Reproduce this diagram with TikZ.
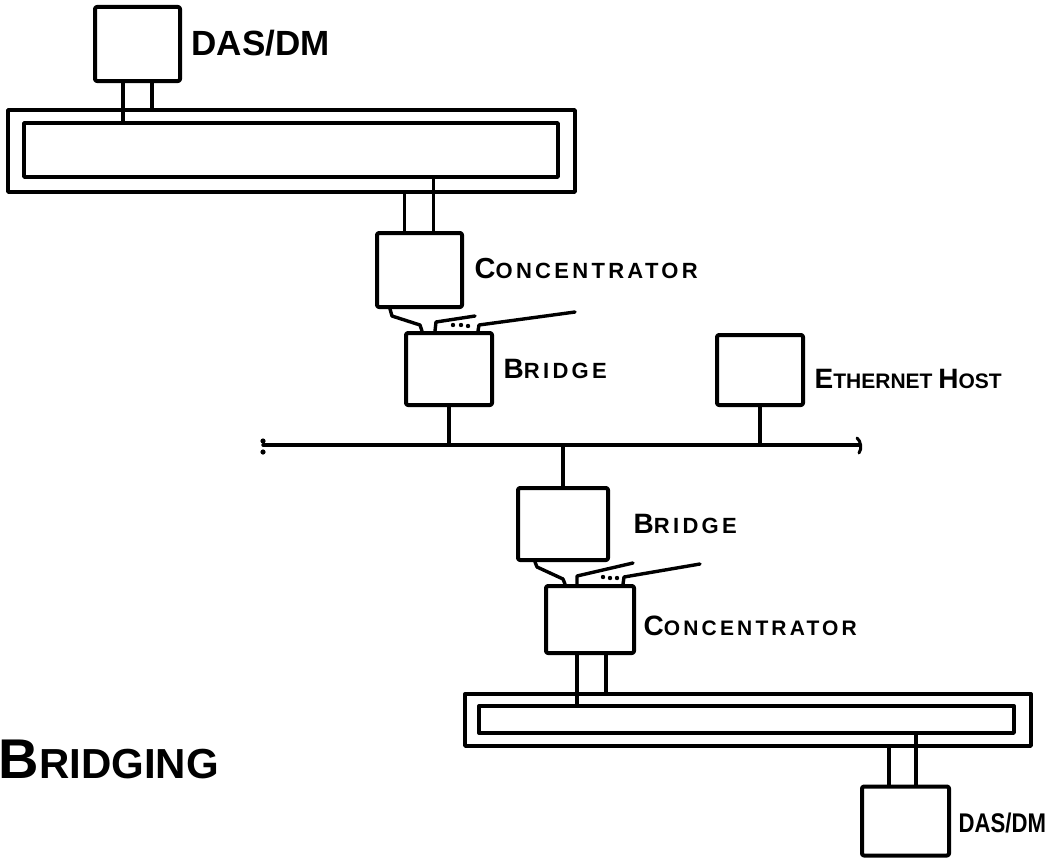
\documentclass[tikz,border=0pt]{standalone}
\usepackage{fontspec}
\setmainfont{Liberation Sans}
\newfontfamily\hand{Liberation Sans}[LetterSpace=15]
\newfontfamily\handplain{Liberation Sans}
\newfontfamily\handnarrow{Liberation Sans}[FakeStretch=0.82]
% first letter big, the rest smaller (hand lettered small caps)
\newcommand\capword[4]{{\fontsize{#1}{#1}\selectfont #3}{\fontsize{#2}{#2}\selectfont #4}}

\begin{document}
\begin{tikzpicture}[x=1pt, y=-1pt, line width=3.4pt, line cap=round, line join=round,
  box/.style={draw, line width=4pt, rounded corners=2pt, minimum width=86pt, minimum height=72pt, inner sep=0pt},
  ring/.style={draw, inner sep=0pt},
  lbl/.style={anchor=base west, inner sep=0pt, font=\hand\bfseries}]
  \useasboundingbox (0,0) rectangle (1054,859);

  % upper ring with its station and concentrator
  \node[box, minimum width=85pt, minimum height=74pt] (das1) at (137.5,44) {};
  \node[ring, minimum width=567pt, minimum height=82pt] (ring1out) at (291.5,151) {};
  \node[ring, minimum width=534pt, minimum height=54pt] (ring1in) at (291,150) {};
  \node[box, minimum width=85pt, minimum height=74pt] (conc1) at (419.5,270) {};
  \node[box] (bridge1) at (449,369) {};
  \draw ([xshift=-14.5]das1.south) -- ([xshift=-14.5]das1.south |- ring1in.north);
  \draw ([xshift=14.5]das1.south) -- ([xshift=14.5]das1.south |- ring1out.north);
  \draw ([xshift=-15]conc1.north) -- ([xshift=-15]conc1.north |- ring1out.south);
  \draw ([xshift=14]conc1.north) -- ([xshift=14]conc1.north |- ring1in.south);

  % ports between concentrator and bridge
  \coordinate (tail1a) at (475,316); \coordinate (tail1b) at (575,312);
  \draw ([xshift=-29.5]conc1.south) -- ++(2,7) -- ++(28,9) -- ([xshift=-27]bridge1.north);
  \draw ([xshift=-14]bridge1.north) -- ++(1,-9) -- (tail1a);
  \draw ([xshift=29]bridge1.north) -- ++(1,-6) -- (tail1b);
  \foreach \px/\py in {453/325, 461/325, 468/326} \fill (\px,\py) circle (2.2pt);

  % ethernet
  \coordinate (busL) at (263,445); \coordinate (busR) at (860,445);
  \draw (busL) -- (busR);
  \fill (263,441) circle (2.6pt); \fill (263,452) circle (2.6pt);
  \draw[line width=3pt] (857,438) .. controls (861,441) and (862,449) .. (859,453);
  \node[box, minimum height=70pt] (host) at (760,370) {};
  \node[box, minimum width=90pt] (bridge2) at (563,524) {};
  \draw (bridge1.south) -- (bridge1.south |- busL);
  \draw (host.south) -- (host.south |- busL);
  \draw (bridge2.north) -- (bridge2.north |- busL);

  % lower ring
  \node[box, minimum width=88pt, minimum height=67pt] (conc2) at (590,619.5) {};
  \coordinate (tail2a) at (633,563); \coordinate (tail2b) at (700,564);
  \draw ([xshift=-28]bridge2.south) -- ++(2,5) -- ++(26,12) -- ([xshift=-25]conc2.north);
  \draw ([xshift=-13]conc2.north) -- ++(0,-8) -- (tail2a);
  \draw ([xshift=33]conc2.north) -- ++(1,-7) -- (tail2b);
  \foreach \px/\py in {603/577, 610/578, 617/578} \fill (\px,\py) circle (2.2pt);

  \node[ring, minimum width=566pt, minimum height=52pt] (ring2out) at (748,720) {};
  \node[ring, minimum width=535pt, minimum height=27pt] (ring2in) at (746.5,719.5) {};
  \node[box, minimum width=87pt, minimum height=69pt] (das2) at (905.5,821) {};
  \draw ([xshift=-13]conc2.south) -- ([xshift=-13]conc2.south |- ring2in.north);
  \draw ([xshift=16]conc2.south) -- ([xshift=16]conc2.south |- ring2out.north);
  \draw ([xshift=-16.5]das2.north) -- ([xshift=-16.5]das2.north |- ring2out.south);
  \draw ([xshift=10.5]das2.north) -- ([xshift=10.5]das2.north |- ring2in.south);

  % labels
  \node[lbl, font=\handplain\bfseries] at (190,56) {\fontsize{35}{35}\selectfont DAS/DM};
  \node[lbl] at (473,278) {\capword{29}{22}{C}{ONCENTRATOR}};
  \node[lbl] at (502,378) {\capword{28}{22}{B}{RIDGE}};
  \node[lbl, font=\handplain\bfseries] at (813,388) {\capword{28}{21}{E}{THERNET\ }\capword{28}{21}{H}{OST}};
  \node[lbl] at (632,533) {\capword{28}{22}{B}{RIDGE}};
  \node[lbl] at (642,635) {\capword{28}{21}{C}{ONCENTRATOR}};
  \node[lbl, font=\handnarrow\bfseries] at (957,832) {\fontsize{27}{27}\selectfont DAS/DM};
  \node[lbl, font=\handplain\bfseries] at (-3,778) {\capword{56}{42}{B}{RIDGING}};
\end{tikzpicture}
\end{document}
